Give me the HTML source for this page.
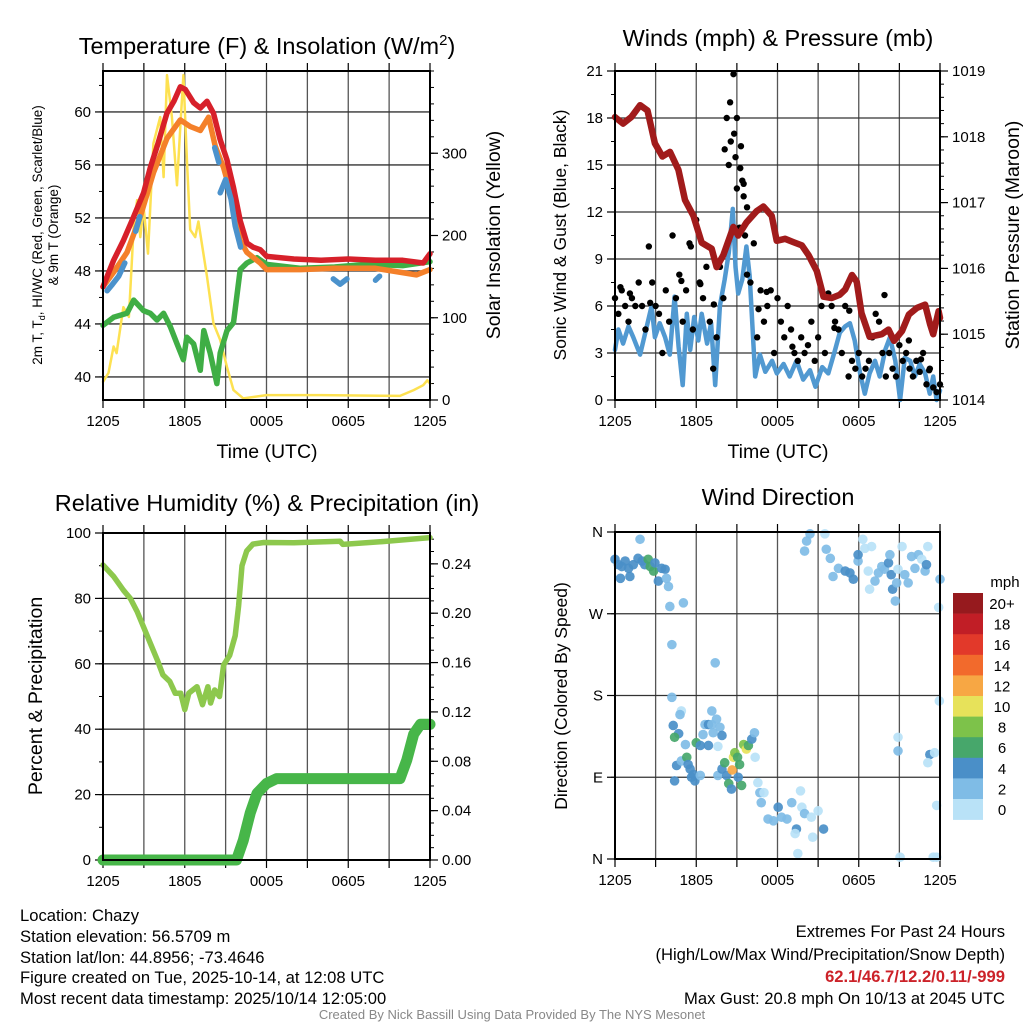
<!DOCTYPE html>
<html><head><meta charset="utf-8"><style>
html,body{margin:0;padding:0;background:#fff;}
svg{display:block;font-family:"Liberation Sans",Arial,sans-serif;}
</style></head><body>
<svg id="chart" width="1024" height="1024" viewBox="0 0 1024 1024" xmlns="http://www.w3.org/2000/svg">
<rect width="1024" height="1024" fill="#fff"/>
<g id="plots"></g>
<g fill="#000">
<text x="267" y="54" font-size="23.5" text-anchor="middle">Temperature (F) &amp; Insolation (W/m<tspan dy="-9" font-size="15">2</tspan><tspan dy="9">)</tspan></text>
<text x="778" y="46" font-size="23.5" text-anchor="middle">Winds (mph) &amp; Pressure (mb)</text>
<text x="267" y="511" font-size="23.5" text-anchor="middle">Relative Humidity (%) &amp; Precipitation (in)</text>
<text x="778" y="505" font-size="23.5" text-anchor="middle">Wind Direction</text>
<text x="267" y="458" font-size="19.5" text-anchor="middle">Time (UTC)</text>
<text x="778" y="458" font-size="19.5" text-anchor="middle">Time (UTC)</text>
<text transform="translate(42,235) rotate(-90)" font-size="13.5" text-anchor="middle">2m T, T<tspan dy="3" font-size="9">d</tspan><tspan dy="-3">, HI/WC (Red, Green, Scarlet/Blue)</tspan></text>
<text transform="translate(58,235) rotate(-90)" font-size="13.5" text-anchor="middle">&amp; 9m T (Orange)</text>
<text transform="translate(500,235) rotate(-90)" font-size="19.5" text-anchor="middle">Solar Insolation (Yellow)</text>
<text transform="translate(566,235) rotate(-90)" font-size="17.5" text-anchor="middle">Sonic Wind &amp; Gust (Blue, Black)</text>
<text transform="translate(1019,235) rotate(-90)" font-size="19.5" text-anchor="middle">Station Pressure (Maroon)</text>
<text transform="translate(42,696) rotate(-90)" font-size="19.5" text-anchor="middle">Percent &amp; Precipitation</text>
<text transform="translate(567,696) rotate(-90)" font-size="17.5" text-anchor="middle">Direction (Colored By Speed)</text>
</g>
<g font-size="16.6" fill="#000">
<text x="20" y="921">Location: Chazy</text>
<text x="20" y="942">Station elevation: 56.5709 m</text>
<text x="20" y="963">Station lat/lon: 44.8956; -73.4646</text>
<text x="20" y="983">Figure created on Tue, 2025-10-14, at 12:08 UTC</text>
<text x="20" y="1004">Most recent data timestamp: 2025/10/14 12:05:00</text>
</g>
<g font-size="16.6" fill="#000" text-anchor="end">
<text x="1005" y="937">Extremes For Past 24 Hours</text>
<text x="1005" y="960">(High/Low/Max Wind/Precipitation/Snow Depth)</text>
<text x="1005" y="982" fill="#cc2229" font-weight="bold">62.1/46.7/12.2/0.11/-999</text>
<text x="1005" y="1004">Max Gust: 20.8 mph On 10/13 at 2045 UTC</text>
</g>
<text x="512" y="1019" font-size="13" fill="#888" text-anchor="middle">Created By Nick Bassill Using Data Provided By The NYS Mesonet</text>
</svg>
<script>
// ---- Temperature panel data ----
const tempT = [0,0.78,1.5,2.25,2.98,3.47,4.0,4.69,5.2,5.67,6.04,6.65,7.14,7.63,8.11,8.6,9.09,9.58,10.07,10.56,11.0,11.54,12.02,14,16,18,20,22,23.5,24];
const tempV = [46.8,48.8,50.3,52.1,53.9,55.8,57.5,59.9,60.8,61.9,61.7,60.7,60.3,60.8,59.9,57.9,56.4,54.3,51.8,50.1,49.8,49.6,49.1,48.9,48.8,48.9,48.8,48.8,48.6,49.3];
const t9T = [0,0.78,1.76,2.74,3.7,4.7,5.67,6.4,7.14,7.75,8.24,8.85,9.58,10.07,10.56,11.54,12.0,14.5,17,20,23,24];
const t9V = [46.8,47.9,49.4,52.1,55.4,58.0,59.4,58.9,58.6,59.6,57.4,55.8,53.1,50.3,49.4,48.6,48.1,48.1,48.2,48.2,47.7,48.1];
const hiT = [0.3,0.7,1.15,1.6,null,2.4,2.7,null,8.2,8.5,null,8.6,9.0,9.4,9.7,10.1,null,16.9,17.4,17.9,null,20.0,20.3];
const hiV = [46.5,47.0,47.6,48.6,null,51.0,52.1,null,57.3,56.2,null,53.9,54.9,53.4,51.4,49.8,null,47.4,47.0,47.4,null,47.3,47.6];
const dewT = [0,0.78,1.76,2.25,2.98,3.47,3.96,4.45,4.94,5.43,5.9,6.15,6.65,7.14,7.4,7.87,8.36,8.6,9.1,9.58,10.07,10.56,11.3,12,14.5,17,19.4,22,24];
const dewV = [43.9,44.5,44.8,45.8,45.0,44.8,44.3,44.8,43.8,42.5,41.3,43.0,42.5,40.5,43.5,41.8,39.5,41.8,43.5,44.1,48.1,48.6,49.0,48.5,48.2,48.3,48.5,48.4,48.7];
const solT = [0,0.4,0.78,1.0,1.5,1.9,2.25,2.5,2.74,2.98,3.3,3.7,4.2,4.45,4.7,5.06,5.43,5.67,5.9,6.16,6.4,6.77,7.0,7.63,8.11,8.6,9.1,9.58,10.3,12,16,21.8,22.8,23.5,23.8,24];
const solV = [22,33,65,57,113,101,211,243,198,235,178,312,344,271,395,344,261,332,395,292,207,198,217,150,93,73,40,12,2,6,6,5,12,18,24,20];
const tempTicks = [40,44,48,52,56,60];
const solTicks = [0,100,200,300];
const timeLabels = ["1205","1805","0005","0605","1205"];
// ---- Wind panel data ----
const windT = [0,0.25,0.6,1.0,1.35,1.85,2.35,2.7,2.95,3.3,3.7,4.05,4.4,4.7,5.0,5.3,5.55,5.85,6.15,6.4,6.8,7.1,7.4,7.75,8.1,8.4,8.7,8.9,9.1,9.4,9.7,9.95,10.35,10.7,11.1,11.6,11.95,12.45,12.9,13.4,13.9,14.4,14.8,15.3,15.75,16.25,16.6,17.0,17.35,17.7,18.1,18.45,18.8,19.2,19.55,19.95,20.3,20.7,21.05,21.4,21.8,22.15,22.5,22.9,23.25,23.5,23.75,24];
const windV = [3.2,4.5,3.6,4.7,4.0,2.9,4.7,6.0,4.0,4.9,4.0,2.9,6.6,3.4,0.95,5.5,3.2,5.3,3.8,5.5,3.6,4.9,0.95,6.0,7.7,9.4,12.2,8.5,6.8,7.7,9.8,7.9,1.5,2.9,1.8,2.5,1.7,2.3,1.5,2.5,1.3,1.9,0.85,2.1,1.7,3.2,4.3,4.7,4.9,3.8,1.7,0.4,1.7,2.5,1.5,3.2,4.0,2.5,0.0,2.7,2.5,1.5,2.3,1.7,0.4,1.5,0.0,0.6];
const gustV = [6.5,5.5,7,6,5,6.5,6,7.5,6, 4.5,9.8,7.5,6,5.5,3,7,5, 10.5,6.5,8,5,7,10,4.5,11.5, 7.5,6.5,8.5,5,2,4,8.5,6.5, 18,19,20.8,18,14.8,13.8,12.3,7.5, 10,4,7,5,6,7,3,6.5, 5,4,6,4.5,3,2.5,4,3, 3.5,5,2.5,4,6,3,6.8,6, 5,4.5,3,6,1.5,2.5,2,3, 1.5,2,2.5,4,5.5,5,3,1.5, 3,2,1.5,3.5,2.5,3,2,1.5, 2.5,1.8,3,1,2,0.8,0.5,1];
const gustStep = 0.25;
const spikeT = [8.1,8.4,8.55,8.8,8.9,9.0,9.2,9.3,9.4,9.5,9.6,9.75,0.4,1.1,2.6,4.9,5.6,6.3,7.3,10.6,11.2,13.1,16.2,17.3,19.9,21.7,22.6,23.2];
const spikeV = [16,15,16.5,17,15.5,13.5,11,16.2,14,13,10.5,8,7.2,6.8,6.2,7.6,9.8,7.4,6.1,5.8,6.9,3.4,4.6,5.7,6.7,3.8,2.6,1.9];
const presT = [0,0.6,1.2,1.85,2.4,2.95,3.5,4.06,4.68,5.17,5.79,6.4,7.14,7.5,8.0,8.74,9.1,9.72,10.46,10.96,11.57,11.94,12.56,13.17,13.8,14.3,14.9,15.4,16.0,16.6,17.0,17.5,17.85,18.2,18.8,19.7,20.2,20.6,21.2,21.7,22.3,22.9,23.27,23.5,23.9,24];
const presV = [1018.3,1018.2,1018.3,1018.48,1018.4,1017.9,1017.7,1017.77,1017.5,1017.04,1016.8,1016.39,1016.3,1016.02,1016.2,1016.63,1016.5,1016.7,1016.87,1016.94,1016.8,1016.42,1016.45,1016.4,1016.35,1016.2,1015.96,1015.57,1015.55,1015.6,1015.68,1015.9,1015.8,1015.32,1014.96,1015.0,1015.07,1014.9,1015.05,1015.3,1015.4,1015.45,1015.15,1015.0,1015.35,1015.25];
const windTicks = [0,3,6,9,12,15,18,21];
const presTicks = [1014,1015,1016,1017,1018,1019];
// ---- RH panel data ----
const rhT = [0,0.8,1.5,2,2.5,3,3.5,4,4.4,4.9,5.3,5.7,6.0,6.3,6.9,7.3,7.7,7.9,8.2,8.55,8.85,9.3,9.7,9.95,10.2,10.55,11,11.8,14,17.4,17.6,20.6,24];
const rhV = [90.2,86.6,82.5,80,76,71,66,61,56.6,54.6,51,51,46,51,53,47.5,53,48,52,50,59.6,62.6,68.6,77.7,90,94.5,96.6,97.1,97,97.5,96.5,97.4,98.6];
const prT = [0,9.8,10.3,10.8,11.3,12,12.75,21.8,22.3,22.8,23.3,24];
const prV = [0,0,0.016,0.038,0.054,0.062,0.066,0.066,0.081,0.102,0.11,0.11];
const rhTicks = [0,20,40,60,80,100];
const prTicks = ["0.00","0.04","0.08","0.12","0.16","0.20","0.24"];
// ---- Wind direction data ----
const dirT = [0.0,0.25,0.5,0.4,0.75,1.0,1.1,1.35,1.7,1.85,2.0,2.2,2.45,2.6,2.85,2.95,3.2,3.45,3.7,3.8,3.95,4.05,5.05,4.2,7.4,4.2,4.9,4.8,4.3,4.7,4.4,5.2,4.55,4.9,5.3,5.4,5.55,5.8,4.4,5.65,5.9,6.3,6.0,6.3,6.9,6.65,6.9,7.15,6.5,7.25,7.15,7.5,7.75,7.9,7.6,7.6,7.9,8.1,8.25,8.4,8.6,8.65,8.75,8.85,9.05,9.2,9.1,9.35,9.5,9.7,9.85,10.1,10.3,10.35,10.55,10.7,10.8,11.0,11.3,11.7,12.05,12.3,12.7,13.05,13.4,13.3,13.5,13.7,13.8,14.0,14.5,14.6,15.0,15.4,14.4,14.15,14.0,15.5,15.6,15.9,16.1,16.5,17.0,17.35,17.6,17.95,17.95,18.3,18.45,18.95,18.7,18.8,19.2,19.45,19.7,19.9,20.2,20.3,20.4,20.5,20.7,20.8,21.2,20.9,21.4,21.65,21.9,22.15,22.4,22.65,22.9,23.0,23.1,24.0,23.9,23.95,20.9,20.9,23.25,23.6,23.1,23.75,21.05,23.5,23.75];
const dirV = [330,324,322,309,328,320,311,324,331,352,328,324,330,322,317,326,306,320,319,309,300,278,282,236,216,178,163,159,147,138,134,126,103,108,112,104,99,93,86,90,86,92,128,125,125,148,148,148,137,139,163,154,145,136,124,92,99,106,92,83,77,98,112,117,112,104,90,81,126,121,125,132,139,112,84,73,62,73,44,42,57,46,44,62,33,28,6,75,57,50,46,24,53,33,358,350,339,358,341,331,311,320,317,315,308,328,335,352,342,344,317,297,306,315,322,319,326,335,313,297,284,304,344,319,313,304,333,320,335,330,317,324,344,308,277,174,134,119,115,117,106,59,2,2,2];
const dirS = [4,4,4,4,4,4,4,4,4,2,4,4,6,6,6,4,4,4,4,2,2,2,2,2,2,2,0,2,4,4,6,2,4,2,6,4,4,4,4,4,4,2,6,4,4,2,4,2,2,2,2,2,2,4,0,2,4,6,4,6,4,12,10,8,6,6,4,6,8,10,6,4,2,0,0,2,2,0,2,2,4,2,2,2,4,0,0,0,0,2,0,0,0,4,2,2,2,0,2,2,2,2,4,4,4,2,4,0,0,0,0,0,2,2,2,2,4,2,4,4,2,2,0,0,2,2,2,2,2,0,2,4,0,2,0,0,0,2,4,0,0,0,0,0,0];
const dirLabels = ["N","E","S","W","N"];
const speedColors = ["#b9e2f7","#7fbce6","#4a8fc8","#47a76b","#7dc24a","#e7e25a","#f7a744","#f26a2c","#e2392a","#c11e26","#961a1e"];
const speedLabels = ["0","2","4","6","8","10","12","14","16","18","20+"];

const NS = "http://www.w3.org/2000/svg";
const root = document.getElementById('plots');
function mk(tag, attrs, parent) {
  const e = document.createElementNS(NS, tag);
  for (const k in attrs) e.setAttribute(k, attrs[k]);
  (parent || root).appendChild(e);
  return e;
}
const P1 = {x0:103, x1:430, y0:71, y1:400};
const P2 = {x0:615, x1:940, y0:71, y1:400};
const P3 = {x0:103, x1:430, y0:533, y1:860};
const P4 = {x0:615, x1:940, y0:532, y1:859};
function sx(p, t) { return p.x0 + t / 24 * (p.x1 - p.x0); }
function sy(p, v, lo, hi) { return p.y1 - (v - lo) / (hi - lo) * (p.y1 - p.y0); }

function drawGridAndTimeAxis(p, showLabels, prefix) {
  const g = mk('g', {});
  
  
  for (let h = 3; h < 24; h += 3) {
    const l = mk('line', {x1:sx(p,h), x2:sx(p,h), y1:p.y0, y2:p.y1, stroke:'#555', 'stroke-width':1.3}, g);
    
    
  }
  for (let h = 0; h <= 24; h += 3) {
    const a = mk('line', {x1:sx(p,h), x2:sx(p,h), y1:p.y0-8, y2:p.y0, stroke:'#000', 'stroke-width':1.2}, g);
    
    
    const b = mk('line', {x1:sx(p,h), x2:sx(p,h), y1:p.y1, y2:p.y1+8, stroke:'#000', 'stroke-width':1.2}, g);
    
    
  }
  for (let i = 0; i < timeLabels.length; i++) {
    const t = mk('text', {x:sx(p,i*6), y:p.y1+26, 'font-size':15, 'text-anchor':'middle'}, g);
    t.textContent = timeLabels[i];
    
    
  }
}
function yAxis(p, side, ticks, labels, lo, hi, minorStep, prefix, grid) {
  const g = mk('g', {});
  
  
  const x = side === 'left' ? p.x0 : p.x1;
  const dir = side === 'left' ? -1 : 1;
  const start = Math.ceil(lo / minorStep - 1e-9) * minorStep;
  for (let v = start; v <= hi + 1e-9; v += minorStep) {
    const y = sy(p, v, lo, hi);
    if (y < p.y0 - 0.5) break;
    const m = mk('line', {x1:x, x2:x+dir*4, y1:y, y2:y, stroke:'#000', 'stroke-width':1}, g);
    
    
  }
  for (let i = 0; i < ticks.length; i++) {
    const y = sy(p, ticks[i], lo, hi);
    if (grid && y > p.y0 + 1 && y < p.y1 - 1) {
      const gl = mk('line', {x1:p.x0, x2:p.x1, y1:y, y2:y, stroke:'#333', 'stroke-width':1.3}, g);
      
      
    }
    const tk = mk('line', {x1:x, x2:x+dir*8, y1:y, y2:y, stroke:'#000', 'stroke-width':1.2}, g);
    
    
    const tx = mk('text', {x:x+dir*12, y:y+5, 'font-size':15, 'text-anchor': side === 'left' ? 'end' : 'start'}, g);
    tx.textContent = labels[i];
    
    
  }
}
function frame(p, prefix) {
  const r = mk('rect', {x:p.x0, y:p.y0, width:p.x1-p.x0, height:p.y1-p.y0, fill:'none', stroke:'#000', 'stroke-width':2});
  
  
}
function line(p, ts, vs, lo, hi, color, w, name) {
  let d = '', pen = false;
  for (let i = 0; i < ts.length; i++) {
    if (ts[i] === null || vs[i] === null) { pen = false; continue; }
    d += (pen ? 'L' : 'M') + sx(p, ts[i]).toFixed(1) + ' ' + sy(p, vs[i], lo, hi).toFixed(1);
    pen = true;
  }
  const e = mk('path', {d:d, fill:'none', stroke:color, 'stroke-width':w, 'stroke-linejoin':'round', 'stroke-linecap':'round'});
  
  
  return e;
}
function clip(p, id) {
  const c = mk('clipPath', {id:id});
  mk('rect', {x:p.x0-3, y:p.y0-3, width:p.x1-p.x0+6, height:p.y1-p.y0+6}, c);
}

// ---- Panel 1 ----
const TLO = 38.26, THI = 63.09, SLO = 0, SHI = 400;
drawGridAndTimeAxis(P1, true, 'temp');
yAxis(P1, 'left', tempTicks, tempTicks.map(String), TLO, THI, 2, 'temp-y', true);
yAxis(P1, 'right', solTicks, solTicks.map(String), SLO, SHI, 20, 'solar-y', false);
line(P1, solT, solV, SLO, SHI, '#fde151', 2.5, 'solar-insolation-line');
line(P1, dewT, dewV, TLO, THI, '#3fae45', 5.5, 'dewpoint-line');
line(P1, t9T, t9V, TLO, THI, '#f4802a', 5.5, 'temp-9m-line');
line(P1, tempT, tempV, TLO, THI, '#d7202a', 5.5, 'temp-2m-line');
line(P1, hiT, hiV, TLO, THI, '#4b92cc', 5.5, 'heat-index-line');
frame(P1, 'temp');

// ---- Panel 2 ----
const WLO = 0, WHI = 21, PLO = 1014, PHI = 1019;
drawGridAndTimeAxis(P2, true, 'wind');
yAxis(P2, 'left', windTicks, windTicks.map(String), WLO, WHI, 1.5, 'wind-y', true);
yAxis(P2, 'right', presTicks, presTicks.map(String), PLO, PHI, 0.2, 'pressure-y', false);
clip(P2, 'clip2');
line(P2, windT, windV, WLO, WHI, '#5199d1', 4.5, 'sonic-wind-line').setAttribute('clip-path', 'url(#clip2)');
const gg = mk('g', {fill:'#000'});


for (let i = 0; i < gustV.length; i++) {
  const c = mk('circle', {cx:sx(P2, i*gustStep), cy:sy(P2, gustV[i], WLO, WHI), r:3.2}, gg);
  
  
}
for (let i = 0; i < spikeT.length; i++) {
  const c = mk('circle', {cx:sx(P2, spikeT[i]), cy:sy(P2, spikeV[i], WLO, WHI), r:3.2}, gg);
  
  
}
line(P2, presT, presV, PLO, PHI, '#a11b1b', 6.5, 'pressure-line');
frame(P2, 'wind');

// ---- Panel 3 ----
const RLO = 0, RHI = 100, QLO = 0, QHI = 0.265;
drawGridAndTimeAxis(P3, true, 'rh');
yAxis(P3, 'left', rhTicks, rhTicks.map(String), RLO, RHI, 10, 'rh-y', true);
yAxis(P3, 'right', prTicks.map(Number), prTicks, QLO, QHI, 0.01, 'precip-y', false);
line(P3, rhT, rhV, RLO, RHI, '#8dc84d', 5.5, 'humidity-line');
line(P3, prT, prV, QLO, QHI, '#47b649', 11, 'precip-line');
frame(P3, 'rh');

// ---- Panel 4 ----
drawGridAndTimeAxis(P4, true, 'dir');
yAxis(P4, 'left', [0,90,180,270,360], dirLabels, 0, 360, 90, 'dir-y', true);
const dg = mk('g', {});


for (let i = 0; i < dirT.length; i++) {
  const idx = Math.min(10, Math.floor(dirS[i] / 2));
  const c = mk('circle', {cx:sx(P4, dirT[i]), cy:sy(P4, dirV[i], 0, 360), r:4.8, fill:speedColors[idx], 'fill-opacity':0.92}, dg);
  
  
}
frame(P4, 'dir');
// colorbar
const cb = mk('g', {});


const cbTop = 593, cbH = 20.6;
for (let i = 0; i < speedColors.length; i++) {
  const k = speedColors.length - 1 - i;
  const r = mk('rect', {x:953, y:cbTop + i*cbH, width:30, height:cbH+0.3, fill:speedColors[k]}, cb);
  
  
  const t = mk('text', {x:1002, y:cbTop + i*cbH + 16, 'font-size':15, 'text-anchor':'middle'}, cb);
  t.textContent = speedLabels[k];
  
  
}
const mu = mk('text', {x:1005, y:587, 'font-size':15, 'text-anchor':'middle'}, cb);
mu.textContent = 'mph';


</script>
</body></html>
